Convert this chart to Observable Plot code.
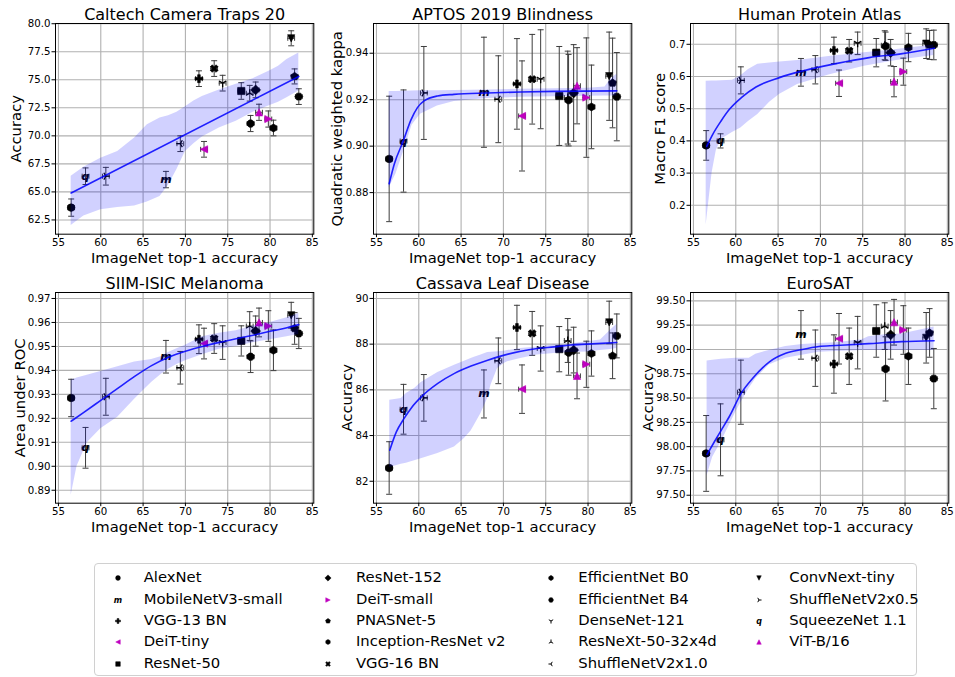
<!DOCTYPE html>
<html>
<head>
<meta charset="utf-8">
<script src="https://cdn.jsdelivr.net/npm/d3@7"></script>
<script src="https://cdn.jsdelivr.net/npm/@observablehq/plot@0.6"></script>
<style>
html,body{margin:0;padding:0;background:#fff;}
#fig{position:relative;width:955px;height:677px;overflow:hidden;background:#fff;font-family:"DejaVu Sans",sans-serif;color:#000;}
.panel{position:absolute;}
#legend{position:absolute;left:94px;top:563px;width:823px;height:113px;border:1px solid #d0d0d0;border-radius:4px;box-sizing:border-box;}
.lg-m{position:absolute;overflow:visible;}
.lg-t{position:absolute;font-size:14.8px;line-height:18px;white-space:nowrap;font-family:"DejaVu Sans",sans-serif;}
</style>
</head>
<body>
<div id="fig"></div>
<script>
// ---------------- data ----------------
const models = ["AlexNet","SqueezeNet 1.1","ShuffleNetV2x0.5","MobileNetV3-small","ShuffleNetV2x1.0","VGG-13 BN","DeiT-tiny","VGG-16 BN","DenseNet-121","ResNet-50","ResNeXt-50-32x4d","EfficientNet B0","ResNet-152","ViT-B/16","DeiT-small","Inception-ResNet v2","ConvNext-tiny","PNASNet-5","EfficientNet B4"];
const imagenetTop1 = [56.5,58.2,60.6,67.7,69.4,71.6,72.2,73.4,74.4,76.6,77.6,77.7,78.3,78.7,79.8,80.4,82.5,82.9,83.4];
const imagenetErr  = [0.4,0.4,0.4,0.4,0.4,0.4,0.4,0.4,0.4,0.4,0.4,0.4,0.4,0.4,0.4,0.4,0.4,0.4,0.4];
const legendOrder = ["AlexNet","MobileNetV3-small","VGG-13 BN","DeiT-tiny","ResNet-50","ResNet-152","DeiT-small","PNASNet-5","Inception-ResNet v2","VGG-16 BN","EfficientNet B0","EfficientNet B4","DenseNet-121","ResNeXt-50-32x4d","ShuffleNetV2x1.0","ConvNext-tiny","ShuffleNetV2x0.5","SqueezeNet 1.1","ViT-B/16"];
const xTicks = [55,60,65,70,75,80,85];
const xLabel = "ImageNet top-1 accuracy";

// Caltech Camera Traps 20
const caltechScore = [63.6,66.4,66.4,66.1,69.3,75.1,68.8,76.0,74.7,74.0,73.8,71.1,74.1,72.1,71.5,70.7,78.7,75.3,73.5];
const caltechErr   = [0.77,0.74,0.79,0.73,0.7,0.7,0.7,0.7,0.7,0.74,0.7,0.72,0.7,0.72,0.72,0.7,0.67,0.67,0.7];
const caltechFitX  = [56.5,83.4];
const caltechFitY  = [64.9,75.3];
const caltechBandX  = [56.5,58.0,60.0,62.0,64.0,65.5,67.0,68.0,69.0,70.0,71.0,72.0,74.0,76.0,78.0,80.0,81.0,82.0,83.4];
const caltechBandLo = [62.0,62.85,63.4,63.6,63.75,64.1,64.6,65.6,67.0,68.6,69.3,69.9,70.7,71.3,72.1,72.7,73.0,73.4,74.0];
const caltechBandHi = [66.4,67.2,68.0,68.6,69.8,71.0,71.6,71.8,72.1,72.6,73.1,73.5,74.1,74.6,75.1,75.8,76.2,76.8,77.4];
const caltechTicks = [62.5,65,67.5,70,72.5,75,77.5,80];

// APTOS 2019 Blindness
const aptosScore = [0.8945,0.9022,0.9229,0.9232,0.9202,0.9268,0.913,0.9288,0.9288,0.9216,0.9209,0.9198,0.9229,0.926,0.9209,0.9169,0.9301,0.9272,0.9213];
const aptosErr   = [0.027,0.022,0.020,0.0237,0.0187,0.0195,0.0237,0.0193,0.0213,0.0213,0.020,0.0197,0.0208,0.0164,0.0257,0.018,0.019,0.0193,0.019];
const aptosFitX  = [56.5,57.1,58.2,59.05,59.84,60.62,62.2,64.16,68.1,72.0,76.0,83.4];
const aptosFitY  = [0.8838,0.8922,0.9025,0.9111,0.9166,0.9195,0.9216,0.9223,0.9229,0.9233,0.9236,0.9238];
const aptosBandX  = [56.5,57.3,58.3,59.2,60.2,62.2,64.2,68.1,72.0,76.0,80.0,82.0,82.6,83.4];
const aptosBandLo = [0.882,0.888,0.8987,0.909,0.9137,0.9173,0.9192,0.9205,0.921,0.9213,0.9215,0.9216,0.9216,0.9216];
const aptosBandHi = [0.9235,0.9235,0.9236,0.9237,0.9238,0.9239,0.924,0.9242,0.9245,0.9247,0.9249,0.9255,0.9285,0.931];
const aptosTicks = [0.88,0.90,0.92,0.94];

// Human Protein Atlas
const hpaScore = [0.386,0.400,0.588,0.613,0.621,0.681,0.579,0.680,0.703,0.674,0.697,0.694,0.674,0.584,0.615,0.690,0.702,0.698,0.698];
const hpaErr   = [0.046,0.022,0.042,0.043,0.044,0.041,0.041,0.035,0.035,0.044,0.045,0.044,0.041,0.047,0.042,0.044,0.046,0.045,0.046];
const hpaFitX  = [56.57,57.28,58.26,59.25,60.66,62.39,65.15,67.9,71.83,75.76,79.69,83.47];
const hpaFitY  = [0.3832,0.4205,0.4619,0.4981,0.5344,0.5675,0.5965,0.6172,0.640,0.6586,0.671,0.688];
const hpaBandX  = [56.5,57.2,57.7,58.3,59.6,60.6,61.5,62.6,64.0,65.2,67.3,71.0,75.2,79.0,83.4];
const hpaBandLo = [0.139,0.30,0.37,0.405,0.426,0.44,0.46,0.482,0.52,0.545,0.575,0.605,0.632,0.65,0.665];
const hpaBandHi = [0.585,0.586,0.586,0.587,0.588,0.602,0.622,0.638,0.642,0.645,0.650,0.662,0.674,0.684,0.698];
const hpaTicks = [0.2,0.3,0.4,0.5,0.6,0.7];

// SIIM-ISIC Melanoma
const siimScore = [0.9285,0.9077,0.929,0.9457,0.9411,0.953,0.9512,0.9533,0.9516,0.9523,0.9585,0.9457,0.9564,0.960,0.9585,0.9484,0.963,0.9575,0.9554];
const siimErr   = [0.0078,0.0085,0.0077,0.0068,0.0068,0.006,0.0064,0.0062,0.007,0.0063,0.006,0.0066,0.0063,0.006,0.0064,0.0085,0.0054,0.0066,0.0063];
const siimFitX  = [56.5,58,60,62,64,66,68,70,72,74,76,78,80,82,83.4];
const siimFitY  = [0.9188,0.9225,0.9275,0.9325,0.9375,0.942,0.9455,0.948,0.950,0.9517,0.9532,0.9547,0.9563,0.9578,0.9591];
const siimBandX  = [56.5,57.2,58.4,60,62,64,66,67.2,68,69,70,72,74,76,78,80,82,83.4];
const siimBandLo = [0.8879,0.900,0.9098,0.9157,0.9205,0.928,0.935,0.9385,0.9405,0.9425,0.944,0.9465,0.9488,0.950,0.9515,0.9528,0.954,0.955];
const siimBandHi = [0.9359,0.9368,0.938,0.9395,0.9415,0.9435,0.9445,0.9458,0.9475,0.949,0.9505,0.954,0.9555,0.9565,0.9585,0.960,0.962,0.9637];
const siimTicks = [0.89,0.90,0.91,0.92,0.93,0.94,0.95,0.96,0.97];

// Cassava Leaf Disease
const cassavaScore = [82.58,85.15,85.65,85.82,87.27,88.73,86.03,88.47,87.81,87.78,88.16,87.63,87.74,86.61,87.12,87.59,88.95,87.49,88.36];
const cassavaErr   = [1.15,1.09,1.02,1.05,1.0,0.97,1.06,0.96,0.99,0.99,0.96,0.99,1.0,1.0,1.01,0.99,0.93,1.0,0.96];
const cassavaFitX  = [56.57,57.35,58.25,59.12,60.29,62.25,64.22,66.18,68.14,70.1,72.06,74.02,75.98,77.94,79.9,83.39];
const cassavaFitY  = [83.36,84.16,84.74,85.21,85.69,86.28,86.72,87.04,87.3,87.52,87.69,87.81,87.88,87.96,88.0,88.07];
const cassavaBandX  = [56.57,57.94,58.53,59.51,60.29,62.25,64.22,65.39,66.18,66.57,67.35,68.14,68.53,69.31,70.1,70.49,72.06,74.02,75.98,77.94,79.9,81.47,82.65,83.39];
const cassavaBandLo = [82.6,82.74,82.79,82.9,82.99,83.21,83.5,83.87,84.2,84.45,84.96,85.62,86.2,86.93,87.15,87.23,87.37,87.52,87.59,87.63,87.66,87.72,87.77,87.81];
const cassavaBandHi = [85.55,85.62,85.84,86.06,86.32,86.76,87.08,87.25,87.37,87.43,87.53,87.63,87.65,87.67,87.69,87.72,87.81,87.88,87.96,88.01,88.1,88.18,88.61,88.86];
const cassavaTicks = [82,84,86,88,90];

// EuroSAT
const eurosatScore = [97.93,98.07,98.56,99.15,98.91,98.85,99.11,98.93,99.07,99.19,99.24,98.80,99.15,99.28,99.20,98.93,99.12,99.17,98.70];
const eurosatErr   = [0.39,0.37,0.33,0.25,0.29,0.3,0.26,0.29,0.27,0.27,0.24,0.33,0.25,0.235,0.25,0.29,0.26,0.25,0.31];
const eurosatFitX  = [56.61,57.47,58.29,59.24,60.65,61.98,63.94,65.9,67.86,69.82,71.78,75.7,79.63,83.43];
const eurosatFitY  = [97.92,98.05,98.17,98.31,98.55,98.70,98.87,98.96,99.0,99.03,99.04,99.06,99.08,99.09];
const eurosatBandX  = [56.61,57.27,58.29,60.02,60.65,61.59,61.98,62.37,63.94,65.9,67.86,69.82,71.78,74.92,75.7,77.67,79.63,83.43];
const eurosatBandLo = [97.7,97.89,98.05,98.36,98.46,98.6,98.65,98.7,98.84,98.91,98.94,98.97,98.98,98.99,98.99,98.99,98.99,98.99];
const eurosatBandHi = [98.88,98.89,98.9,98.91,98.91,98.91,98.93,98.95,98.99,99.03,99.05,99.06,99.07,99.1,99.13,99.15,99.16,99.23];
const eurosatTicks = [97.5,97.75,98.0,98.25,98.5,98.75,99.0,99.25,99.5];

// ---------------- marker symbols ----------------
const rad = s => Math.sqrt(s / Math.PI);
const DEG = Math.PI / 180;
function polyPath(ctx, pts) { ctx.moveTo(pts[0][0], pts[0][1]); for (let i = 1; i < pts.length; i++) ctx.lineTo(pts[i][0], pts[i][1]); ctx.closePath(); }
function regularPolygon(n, rot, k) { return {draw(ctx, s) { const r = rad(s) * k; polyPath(ctx, d3.range(n).map(i => { const a = rot + 2 * Math.PI * i / n; return [r * Math.sin(a), -r * Math.cos(a)]; })); }}; }
function scaledPts(pts, k) { return {draw(ctx, s) { const r = rad(s) * k; polyPath(ctx, pts.map(([a, b]) => [a * r, b * r])); }}; }
function spokes(angles) { return {draw(ctx, s) { const r = rad(s) * 1.05; for (const a of angles) { ctx.moveTo(0, 0); ctx.lineTo(r * Math.sin(a), -r * Math.cos(a)); } }}; }
const symbols = {
  circle: d3.symbolCircle,
  square: scaledPts([[-1,-1],[1,-1],[1,1],[-1,1]], 0.95),
  diamond: scaledPts([[0,-1],[1,0],[0,1],[-1,0]], 1.3),
  pentagon: regularPolygon(5, 0, 1.08),
  hexagon: regularPolygon(6, 0, 1.05),
  hexagonFlat: regularPolygon(6, 30 * DEG, 1.05),
  octagon: regularPolygon(8, 22.5 * DEG, 1.03),
  triUp: scaledPts([[0,-1],[1,1],[-1,1]], 0.95),
  triDown: scaledPts([[0,1],[1,-1],[-1,-1]], 0.95),
  triLeft: scaledPts([[-1,0],[1,-1],[1,1]], 0.95),
  triRight: scaledPts([[1,0],[-1,-1],[-1,1]], 0.95),
  plusFilled: scaledPts([[-1,-3],[1,-3],[1,-1],[3,-1],[3,1],[1,1],[1,3],[-1,3],[-1,1],[-3,1],[-3,-1],[-1,-1]].map(([a,b]) => [a/3, b/3]), 1.05),
  xFilled: scaledPts([[-1,-2],[0,-1],[1,-2],[2,-1],[1,0],[2,1],[1,2],[0,1],[-1,2],[-2,1],[-1,0],[-2,-1]].map(([a,b]) => [a/2, b/2]), 1.0),
  tri1: spokes([180 * DEG, 300 * DEG, 60 * DEG]),
  tri2: spokes([0, 120 * DEG, 240 * DEG]),
  tri3: spokes([270 * DEG, 30 * DEG, 150 * DEG]),
  tri4: spokes([90 * DEG, 210 * DEG, 330 * DEG])
};
const hcap = {draw(ctx) { ctx.moveTo(-3, 0); ctx.lineTo(3, 0); }};
const vcap = {draw(ctx) { ctx.moveTo(0, -2.5); ctx.lineTo(0, 2.5); }};

const BLACK = "#000000", MAG = "#bf00bf";
const modelStyle = {
  "AlexNet": {sym: "circle", color: BLACK},
  "SqueezeNet 1.1": {char: "q", color: BLACK},
  "ShuffleNetV2x0.5": {sym: "tri4", color: BLACK, line: true},
  "MobileNetV3-small": {char: "m", color: BLACK},
  "ShuffleNetV2x1.0": {sym: "tri3", color: BLACK, line: true},
  "VGG-13 BN": {sym: "plusFilled", color: BLACK},
  "DeiT-tiny": {sym: "triLeft", color: MAG},
  "VGG-16 BN": {sym: "xFilled", color: BLACK},
  "DenseNet-121": {sym: "tri1", color: BLACK, line: true},
  "ResNet-50": {sym: "square", color: BLACK},
  "ResNeXt-50-32x4d": {sym: "tri2", color: BLACK, line: true},
  "EfficientNet B0": {sym: "octagon", color: BLACK},
  "ResNet-152": {sym: "diamond", color: BLACK},
  "ViT-B/16": {sym: "triUp", color: MAG},
  "DeiT-small": {sym: "triRight", color: MAG},
  "Inception-ResNet v2": {sym: "hexagon", color: BLACK},
  "ConvNext-tiny": {sym: "triDown", color: BLACK},
  "PNASNet-5": {sym: "pentagon", color: BLACK},
  "EfficientNet B4": {sym: "hexagonFlat", color: BLACK}
};

// ---------------- panels ----------------
const panels = [
  {title: "Caltech Camera Traps 20", ylabel: "Accuracy", y: caltechScore, e: caltechErr, fx: caltechFitX, fy: caltechFitY, bx: caltechBandX, blo: caltechBandLo, bhi: caltechBandHi, ticks: caltechTicks, fmt: ".1f", domain: [61.23, 80.02], col: 0, row: 0, labelDx: -39.5, curve: "linear"},
  {title: "APTOS 2019 Blindness", ylabel: "Quadratic weighted kappa", y: aptosScore, e: aptosErr, fx: aptosFitX, fy: aptosFitY, bx: aptosBandX, blo: aptosBandLo, bhi: aptosBandHi, ticks: aptosTicks, fmt: ".2f", domain: [0.8621, 0.9528], col: 1, row: 0, labelDx: -36.5, curve: "monotone-x"},
  {title: "Human Protein Atlas", ylabel: "Macro F1 score", y: hpaScore, e: hpaErr, fx: hpaFitX, fy: hpaFitY, bx: hpaBandX, blo: hpaBandLo, bhi: hpaBandHi, ticks: hpaTicks, fmt: ".1f", domain: [0.1103, 0.7646], col: 2, row: 0, labelDx: -30, curve: "monotone-x"},
  {title: "SIIM-ISIC Melanoma", ylabel: "Area under ROC", y: siimScore, e: siimErr, fx: siimFitX, fy: siimFitY, bx: siimBandX, blo: siimBandLo, bhi: siimBandHi, ticks: siimTicks, fmt: ".2f", domain: [0.8846, 0.9725], col: 0, row: 1, labelDx: -35, curve: "monotone-x"},
  {title: "Cassava Leaf Disease", ylabel: "Accuracy", y: cassavaScore, e: cassavaErr, fx: cassavaFitX, fy: cassavaFitY, bx: cassavaBandX, blo: cassavaBandLo, bhi: cassavaBandHi, ticks: cassavaTicks, fmt: "d", domain: [81.04, 90.26], col: 1, row: 1, labelDx: -26.5, curve: "monotone-x"},
  {title: "EuroSAT", ylabel: "Accuracy", y: eurosatScore, e: eurosatErr, fx: eurosatFitX, fy: eurosatFitY, bx: eurosatBandX, blo: eurosatBandLo, bhi: eurosatBandHi, ticks: eurosatTicks, fmt: ".2f", domain: [97.418, 99.586], col: 2, row: 1, labelDx: -42, curve: "monotone-x"}
];

const fig = d3.select("#fig");
const frameW = 258.3, frameH = 210.7;
const colL = [55, 373.3, 690], rowT = [22.5, 292.3];
const mL = 64, mT = 30, mR = 8, mB = 40;
const xDomain = [54.65, 85.17];
const errColor = "#3c3c3c";
const markR = 3.8;

function markerMarks(rows, r) {
  return legendOrder.map(name => {
    const st = modelStyle[name];
    const data = rows.filter(d => d.m === name);
    if (st.char) return Plot.text(data, {x: "x", y: "y", text: () => st.char, fill: st.color, fontSize: 11, fontStyle: "italic", fontWeight: "bold", fontFamily: "DejaVu Sans"});
    if (st.line) return Plot.dot(data, {x: "x", y: "y", symbol: symbols[st.sym], r, fill: "none", stroke: st.color, strokeWidth: 1.3});
    return Plot.dot(data, {x: "x", y: "y", symbol: symbols[st.sym], r, fill: st.color, stroke: st.color, strokeWidth: 0.6});
  });
}

panels.forEach(p => {
  const rows = models.map((m, i) => ({m, x: imagenetTop1[i], xe: imagenetErr[i], y: p.y[i], e: p.e[i]}));
  const fit = p.fx.map((x, i) => ({x, y: p.fy[i]}));
  const band = p.bx.map((x, i) => ({x, lo: p.blo[i], hi: p.bhi[i]}));
  const svg = Plot.plot({
    width: mL + frameW + mR,
    height: mT + frameH + mB,
    marginLeft: mL, marginTop: mT, marginRight: mR, marginBottom: mB,
    style: "background:transparent;overflow:visible;font-family:'DejaVu Sans',sans-serif;font-size:10.2px;color:#000;max-width:none;",
    x: {domain: xDomain},
    y: {domain: p.domain},
    marks: [
      Plot.ruleX(xTicks, {stroke: "#b0b0b0", strokeOpacity: 1, strokeWidth: 1.1}),
      Plot.ruleY(p.ticks, {stroke: "#b0b0b0", strokeOpacity: 1, strokeWidth: 1.1}),
      Plot.ruleX(rows, {x: "x", y1: d => d.y - d.e, y2: d => d.y + d.e, stroke: errColor, strokeWidth: 1}),
      Plot.dot(rows, {x: "x", y: d => d.y - d.e, symbol: hcap, fill: "none", stroke: errColor, strokeWidth: 1}),
      Plot.dot(rows, {x: "x", y: d => d.y + d.e, symbol: hcap, fill: "none", stroke: errColor, strokeWidth: 1}),
      Plot.ruleY(rows, {y: "y", x1: d => d.x - d.xe, x2: d => d.x + d.xe, stroke: errColor, strokeWidth: 1}),
      Plot.dot(rows, {x: d => d.x - d.xe, y: "y", symbol: vcap, fill: "none", stroke: errColor, strokeWidth: 1}),
      Plot.dot(rows, {x: d => d.x + d.xe, y: "y", symbol: vcap, fill: "none", stroke: errColor, strokeWidth: 1}),
      ...markerMarks(rows, markR),
      Plot.areaY(band, {x: "x", y1: "lo", y2: "hi", fill: "#0000ff", fillOpacity: 0.18}),
      Plot.line(fit, {x: "x", y: "y", stroke: "#0000ff", strokeOpacity: 0.85, strokeWidth: 1.6, curve: p.curve}),
      Plot.frame({stroke: "#000", strokeWidth: 1}),
      Plot.axisX(xTicks, {tickSize: 3.5, tickPadding: 1.5, fontSize: 10.2, label: null}),
      Plot.axisY(p.ticks, {tickSize: 3.5, tickPadding: 1.5, fontSize: 10.2, tickFormat: d3.format(p.fmt), label: null}),
      Plot.text([p.title], {frameAnchor: "top", dy: -3.5, lineAnchor: "bottom", textAnchor: "middle", fontSize: 16}),
      Plot.text([xLabel], {frameAnchor: "bottom", dy: 24, lineAnchor: "middle", textAnchor: "middle", fontSize: 14.8}),
      Plot.text([p.ylabel], {frameAnchor: "left", dx: p.labelDx, rotate: -90, lineAnchor: "middle", textAnchor: "middle", fontSize: 14.8})
    ]
  });
  fig.append("div").attr("class", "panel")
    .style("left", (colL[p.col] - mL) + "px")
    .style("top", (rowT[p.row] - mT) + "px")
    .style("width", (mL + frameW + mR) + "px")
    .node().appendChild(svg);
});

// ---------------- legend ----------------
const legend = fig.append("div").attr("id", "legend");
const lgMarkX = [22.7, 233.3, 456, 664.3];
const lgTextX = [48.7, 261, 483.3, 694.3];
const rLeg = 2.4;
legendOrder.forEach((name, k) => {
  const col = Math.floor(k / 5), row = k % 5;
  const cy = 13.2 + row * 21.4;
  const st = modelStyle[name];
  const svg = legend.append("svg").attr("class", "lg-m").attr("width", 20).attr("height", 20)
    .style("left", (lgMarkX[col] - 10) + "px").style("top", (cy + 1 - 10) + "px");
  const g = svg.append("g").attr("transform", "translate(10,10)");
  if (st.char) {
    g.append("text").attr("text-anchor", "middle").attr("dy", "0.32em").attr("font-size", 8)
      .attr("font-family", "DejaVu Sans").attr("font-style", "italic").attr("font-weight", "bold")
      .attr("fill", st.color).text(st.char);
  } else {
    g.append("path").attr("d", d3.symbol(symbols[st.sym], Math.PI * rLeg * rLeg)())
      .attr("fill", st.line ? "none" : st.color).attr("stroke", st.color).attr("stroke-width", st.line ? 1 : 0.5);
  }
  legend.append("div").attr("class", "lg-t").style("left", lgTextX[col] + "px").style("top", (cy - 9) + "px").text(name);
});
</script>
</body>
</html>
